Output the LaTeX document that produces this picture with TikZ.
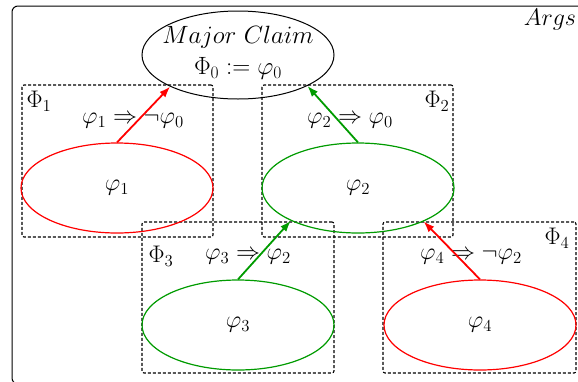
\RequirePackage{fix-cm}
\documentclass[tikz,border=0pt]{standalone}
\usetikzlibrary{shapes.geometric,arrows.meta}
\definecolor{ggreen}{RGB}{0,155,0}
\begin{document}
\begin{tikzpicture}[x=1pt,y=-1pt,
  every node/.style={font=\fontsize{24}{31}\selectfont},
  claim/.style={ellipse,draw,minimum width=192pt,minimum height=88pt,inner sep=0pt,line width=1pt},
  claimtext/.style={align=center,inner sep=0pt,font=\fontsize{25}{31}\selectfont},
  redell/.style={ellipse,draw=red,minimum width=192pt,minimum height=90pt,inner sep=0pt,line width=1.2pt},
  greenell/.style={ellipse,draw=ggreen,minimum width=192pt,minimum height=90pt,inner sep=0pt,line width=1.2pt},
  group/.style={draw,dash pattern=on 3pt off 2pt,line width=1.1pt,rounded corners=2pt,inner sep=0pt},
  supp/.style={draw=ggreen,line width=1.8pt,-{Latex[length=11pt,width=8pt]}},
  att/.style={draw=red,line width=1.8pt,-{Latex[length=11pt,width=8pt]}}]
\useasboundingbox (0,0) rectangle (578,381);
\draw[line width=1pt,rounded corners=6pt] (12,6) rectangle (640,384);
\node (args) at (550,20) {$Args$};
% groups
\node[group,minimum width=191pt,minimum height=152pt] (G1) at (117.5,161) {};
\node[group,minimum width=191pt,minimum height=152pt] (G2) at (357.5,161) {};
\node[group,minimum width=192pt,minimum height=151pt] (G3) at (238,297.5) {};
\node[group,minimum width=193pt,minimum height=151pt] (G4) at (479.5,297.5) {};
\node (L1) at (39,101) {$\Phi_1$};
\node (L2) at (437,101) {$\Phi_2$};
\node (L3) at (161,256) {$\Phi_3$};
\node (L4) at (557,238) {$\Phi_4$};
% claims
\node[claim] (mc) at (238,55) {};
\node[claimtext] (mct) at (238,53) {$Major~Claim$\\$\Phi_0 := \varphi_0$};
\node[redell] (p1) at (117,188) {$\varphi_1$};
\node[greenell] (p2) at (358,188) {$\varphi_2$};
\node[greenell] (p3) at (238,325) {$\varphi_3$};
\node[redell] (p4) at (480,325) {$\varphi_4$};
% relation labels
\node (r1) at (133,121) {$\varphi_1 \Rightarrow \neg\varphi_0$};
\node (r2) at (350,121) {$\varphi_2 \Rightarrow \varphi_0$};
\node (r3) at (248,257) {$\varphi_3 \Rightarrow \varphi_2$};
\node (r4) at (471,257) {$\varphi_4 \Rightarrow \neg\varphi_2$};
% arrows
\draw[att] (p1.north) -- (mc.205);
\draw[supp] (p2.north) -- (mc.336);
\draw[supp] (p3.north) -- (p2.206);
\draw[att] (p4.north) -- (p2.333);
\end{tikzpicture}
\end{document}
